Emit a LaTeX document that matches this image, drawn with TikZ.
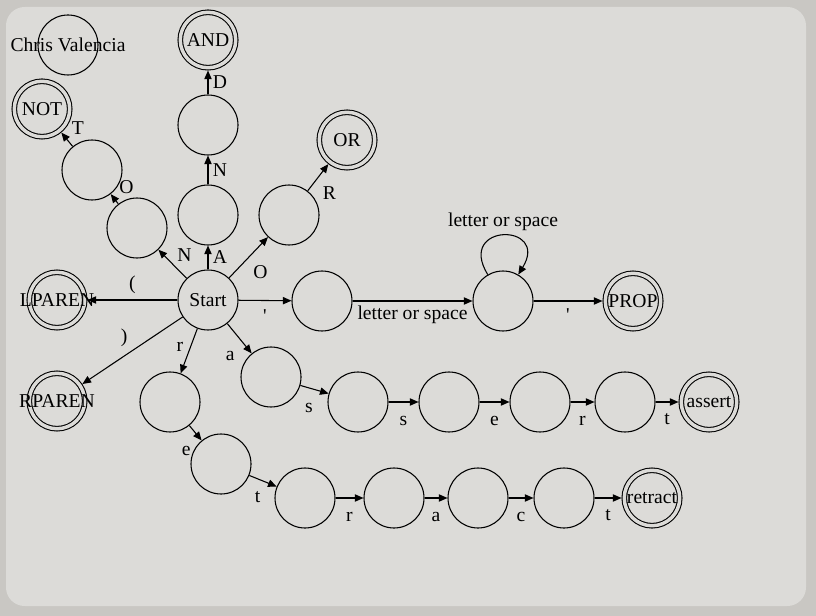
\documentclass[tikz,border=0pt]{standalone}
\usepackage{fontspec}
\setmainfont{Liberation Serif}
\usetikzlibrary{shapes,arrows,arrows.meta,positioning}

\definecolor{frame}{RGB}{201,199,195}
\definecolor{panel}{RGB}{220,219,216}

\tikzset{
  statebox/.style={draw, circle, minimum size=45pt, inner sep=0pt, line width=0.8pt},
  accstate/.style={statebox, double=panel, double distance=2.6pt, minimum size=41.6pt, outer sep=2.1pt},
  trans/.style={-{Triangle[length=6.5pt,width=5.5pt]}, line width=0.8pt}
}

\begin{document}
\begin{tikzpicture}[x=0.75pt, y=-0.75pt, font=\fontsize{14.7}{17}\selectfont]
\fill[frame] (0,0) rectangle (816,616);
\fill[panel, rounded corners=14pt] (6,7) rectangle (806,606);
\useasboundingbox (0,0) rectangle (816,616);

\node[statebox, label=center:Chris Valencia] (cv) at (68,45) {};
\node[statebox] (start) at (208,300) {Start};
\node[statebox] (nA) at (208,215) {};
\node[statebox] (nAN) at (208,125) {};
\node[accstate] (nAND) at (208,40) {AND};
\node[statebox] (nN) at (137,228) {};
\node[statebox] (nNO) at (92,170) {};
\node[accstate] (nNOT) at (42,109) {NOT};
\node[statebox] (nO) at (289,215) {};
\node[accstate] (nOR) at (347,140) {OR};
\node[accstate, label=center:LPAREN] (lparen) at (57,300) {};
\node[accstate, label=center:RPAREN] (rparen) at (57,401) {};
\node[statebox] (q1) at (322,301) {};
\node[statebox] (q2) at (503,301) {};
\node[accstate, label=center:PROP] (prop) at (633,301) {};
\node[statebox] (a1) at (271,377) {};
\node[statebox] (as1) at (358,402) {};
\node[statebox] (as2) at (449,402) {};
\node[statebox] (as3) at (540,402) {};
\node[statebox] (as4) at (625,402) {};
\node[accstate, label=center:assert] (assert) at (709,402) {};
\node[statebox] (r1) at (170,402) {};
\node[statebox] (re) at (221,464) {};
\node[statebox] (rt) at (305,498) {};
\node[statebox] (rr) at (394,498) {};
\node[statebox] (ra) at (478,498) {};
\node[statebox] (rc) at (564,498) {};
\node[accstate, label=center:retract] (retract) at (652,498) {};

\draw[trans] (start) -- node[above=1pt] {(} (lparen);
\draw[trans] (start) -- node[above left=-1pt and 0pt] {)} (rparen);
\draw[trans] (start) -- node[above right=-2pt and 0pt] {N} (nN);
\draw[trans] (nN) -- node[above right] {O} (nNO);
\draw[trans] (nNO) -- node[above right] {T} (nNOT);
\draw[trans] (start) -- node[right] {A} (nA);
\draw[trans] (nA) -- node[right] {N} (nAN);
\draw[trans] (nAN) -- node[right] {D} (nAND);
\draw[trans] (start) -- node[below right=2pt and 0pt] {O} (nO);
\draw[trans] (nO) -- node[below right=3pt and 0pt] {R} (nOR);
\draw[trans] (start) -- node[below=3pt] {\textquotesingle} (q1);
\draw[trans] (q1) -- node[below] {letter or space} (q2);
\draw[trans] (q2.120) .. controls +(-32,-52) and +(32,-52) .. node[above] {letter or space} (q2.60);
\draw[trans] (q2) -- node[below=2pt] {\textquotesingle} (prop);
\draw[trans] (start) -- node[pos=0.4, left=2pt] {r} (r1);
\draw[trans] (start) -- node[below left=6pt and 0pt] {a} (a1);
\draw[trans] (a1) -- node[pos=0.3, below=8pt] {s} (as1);
\draw[trans] (as1) -- node[below=7pt] {s} (as2);
\draw[trans] (as2) -- node[below=7pt] {e} (as3);
\draw[trans] (as3) -- node[below=7pt] {r} (as4);
\draw[trans] (as4) -- node[below=5pt] {t} (assert);
\draw[trans] (r1) -- node[below left=6pt and 0pt] {e} (re);
\draw[trans] (re) -- node[pos=0.3, below=6pt] {t} (rt);
\draw[trans] (rt) -- node[below=7pt] {r} (rr);
\draw[trans] (rr) -- node[below=7pt] {a} (ra);
\draw[trans] (ra) -- node[below=7pt] {c} (rc);
\draw[trans] (rc) -- node[below=5pt] {t} (retract);
\end{tikzpicture}
\end{document}
